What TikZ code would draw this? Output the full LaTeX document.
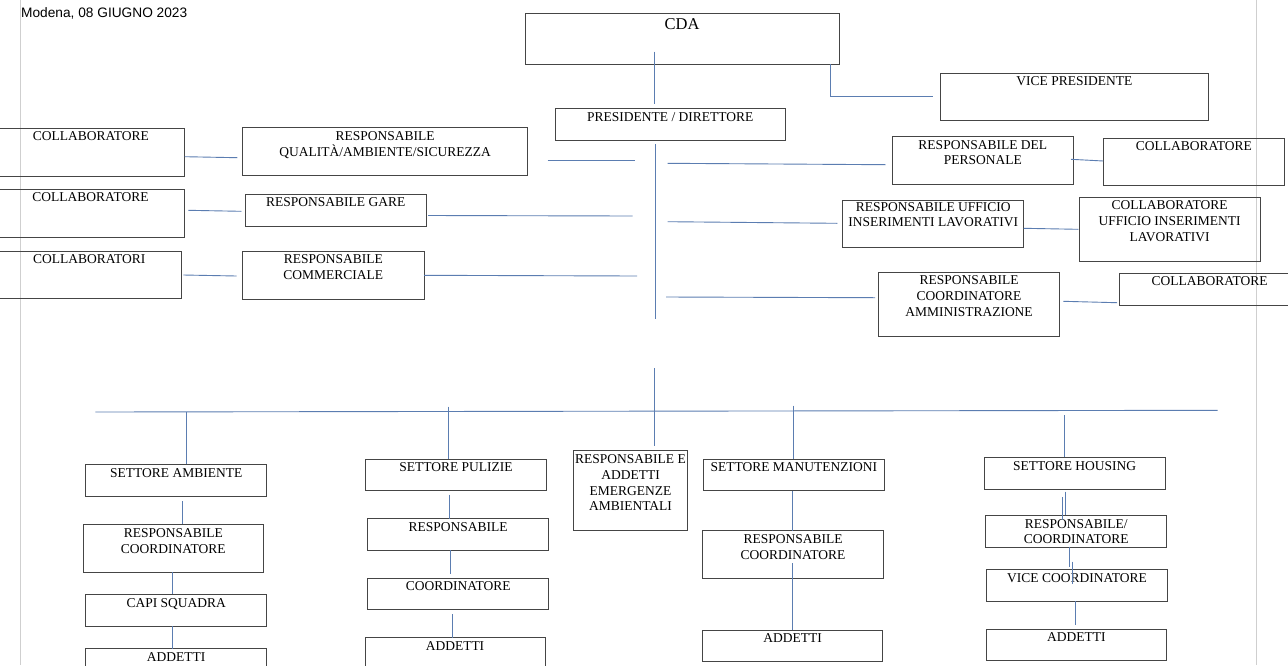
\documentclass[tikz,border=0pt]{standalone}
\usepackage{fontspec}
\setmainfont{Liberation Serif}
\newfontfamily\arialf{Liberation Sans}
\definecolor{boxc}{HTML}{454545}
\definecolor{linec}{HTML}{5B7DB1}
\definecolor{marg}{HTML}{CFCFCF}
% \mkbox[baseline offset]{name}{x1}{y1}{x2}{y2}{text}
\newcommand{\mkbox}[7][12.3]{%
  \node[obox] (#2) at (#3,#4) {\parbox[t][\dimexpr#6pt-#4pt\relax][t]{\dimexpr#5pt-#3pt\relax}{\rule{0pt}{#1pt}\makebox[\linewidth]{\begin{tabular}[t]{@{}c@{}}#7\end{tabular}}}};}
\begin{document}
\begin{tikzpicture}[x=1pt,y=-1pt,
  obox/.style={draw=boxc, line width=0.9pt, rectangle, inner sep=0pt, outer sep=0pt, anchor=north west,
    font=\fontsize{13.5pt}{15.7pt}\selectfont},
  conn/.style={draw=linec, line width=0.9pt},
  margin/.style={draw=marg, line width=0.9pt}]
\useasboundingbox (0,0) rectangle (1288,665);
\fill[white] (0,0) rectangle (1288,665);
\clip (0,0) rectangle (1288,665);
% page margins
\coordinate (ml1) at (20.3,0); \coordinate (ml2) at (20.3,665);
\coordinate (mr1) at (1256.7,0); \coordinate (mr2) at (1256.7,665);
\draw[margin] (ml1) -- (ml2);
\draw[margin] (mr1) -- (mr2);
% title
\node[anchor=base west, inner sep=0pt, font=\arialf\fontsize{13.7pt}{16pt}\selectfont] (title) at (21,17) {Modena, 08 GIUGNO 2023};
% top boxes
\mkbox[16]{cda}{525}{13.3}{839.3}{64.3}{\fontsize{16.5pt}{18pt}\selectfont CDA}
\mkbox[12.7]{pres}{555.3}{108.3}{785.3}{140}{PRESIDENTE / DIRETTORE}
\mkbox{vice}{940}{73.3}{1208.7}{120.7}{VICE PRESIDENTE}
% left column
\mkbox[12]{c1}{-3}{128.3}{184.7}{176}{COLLABORATORE}
\mkbox{q}{242.7}{127.7}{527.7}{175.7}{RESPONSABILE\\QUALITÀ/AMBIENTE/SICUREZZA}
\mkbox[12]{c2}{-3}{189.7}{184}{237.7}{COLLABORATORE}
\mkbox[12]{g}{245.3}{194.3}{426.3}{226.3}{RESPONSABILE GARE}
\mkbox[12.3]{c3}{-3}{251}{181.7}{298.7}{COLLABORATORI}
\mkbox[12.8]{com}{242.7}{251}{424}{299.3}{RESPONSABILE\\COMMERCIALE}
% right column
\mkbox[12.3]{per}{892.3}{136.7}{1073.3}{184}{RESPONSABILE DEL\\PERSONALE}
\mkbox[12]{c4}{1103.3}{138.3}{1284.3}{185.7}{COLLABORATORE}
\mkbox[11]{uff}{842.7}{200}{1023.7}{247.3}{RESPONSABILE UFFICIO\\INSERIMENTI LAVORATIVI}
\mkbox[12]{c5}{1079}{197.7}{1260.3}{261.3}{COLLABORATORE\\UFFICIO INSERIMENTI\\LAVORATIVI}
\mkbox[12]{amm}{878.3}{272.7}{1059.7}{336.3}{RESPONSABILE\\COORDINATORE\\AMMINISTRAZIONE}
\mkbox[11.3]{c6}{1119.3}{273.7}{1300}{305.7}{COLLABORATORE}
% bottom: ambiente
\mkbox[12.7]{amb}{85.7}{464.3}{266.7}{496}{SETTORE AMBIENTE}
\mkbox[13]{ambr}{83}{524.3}{263.7}{572.3}{RESPONSABILE\\COORDINATORE}
\mkbox[12.7]{ambc}{85.7}{594.3}{266.7}{626}{CAPI SQUADRA}
\mkbox[12.6]{amba}{85.7}{648.7}{266.7}{690}{ADDETTI}
% pulizie
\mkbox[12.6]{pul}{365.7}{459}{546.3}{490.7}{SETTORE PULIZIE}
\mkbox[12.3]{pulr}{367.7}{518.7}{548.7}{550.3}{RESPONSABILE}
\mkbox[12.3]{pulc}{367.7}{578.3}{548.7}{609.3}{COORDINATORE}
\mkbox[12.3]{pula}{365}{637.7}{545}{690}{ADDETTI}
% emergenze
\mkbox[13]{emg}{573.3}{450.7}{687.7}{530}{RESPONSABILE E\\ADDETTI\\EMERGENZE\\AMBIENTALI}
% manutenzioni
\mkbox[12.6]{man}{703.3}{459}{884.3}{490.7}{SETTORE MANUTENZIONI}
\mkbox[12.6]{manr}{702.7}{530.7}{883.3}{578.3}{RESPONSABILE\\COORDINATORE}
\mkbox[12.6]{mana}{702.7}{630}{882.7}{661.7}{ADDETTI}
% housing
\mkbox[13]{hou}{984.3}{457.3}{1165}{489}{SETTORE HOUSING}
\mkbox[12.7]{hour}{985.7}{515.3}{1166.7}{547}{RESPONSABILE/\\COORDINATORE}
\mkbox[12.7]{houv}{986.7}{569.3}{1167.3}{601}{VICE COORDINATORE}
\mkbox[12.3]{houa}{986}{629.3}{1166.7}{660.7}{ADDETTI}
% ---------- connectors ----------
\coordinate (k1) at (654.3,51.7);
\draw[conn] (k1) -- (k1 |- 0,104.3);
\coordinate (k2) at (830.7,64.3); \coordinate (k3) at (933.3,96.5);
\draw[conn] (k2) |- (k3);
\coordinate (sp1) at (655.3,144); \coordinate (sp2) at (655.3,319);
\draw[conn] (sp1) -- (sp2);
% left branches
\coordinate (l1a) at (547.7,160.3); \coordinate (l1b) at (635,160.3);
\coordinate (l2a) at (428,215.5);   \coordinate (l2b) at (632.7,216);
\coordinate (l3a) at (424,275.3);   \coordinate (l3b) at (637,276);
\draw[conn] (l1a) -- (l1b);
\draw[conn] (l2a) -- (l2b);
\draw[conn] (l3a) -- (l3b);
% right branches
\coordinate (r1a) at (667.7,163.3); \coordinate (r1b) at (885.7,164.7);
\coordinate (r2a) at (667.7,221.7); \coordinate (r2b) at (837.3,223.3);
\coordinate (r3a) at (666,297);     \coordinate (r3b) at (875,297.7);
\draw[conn] (r1a) -- (r1b);
\draw[conn] (r2a) -- (r2b);
\draw[conn] (r3a) -- (r3b);
% collaborator links
\coordinate (x1a) at (184.7,156.7); \coordinate (x1b) at (237.3,157.7);
\coordinate (x2a) at (188.3,210.3); \coordinate (x2b) at (241.3,211.3);
\coordinate (x3a) at (183.3,275);   \coordinate (x3b) at (236.7,276);
\coordinate (x4a) at (1071,159.3);  \coordinate (x4b) at (1103.3,161);
\coordinate (x5a) at (1023.7,228.3);\coordinate (x5b) at (1078.3,229.3);
\coordinate (x6a) at (1063.3,301.3);\coordinate (x6b) at (1117,302.7);
\draw[conn] (x1a) -- (x1b);
\draw[conn] (x2a) -- (x2b);
\draw[conn] (x3a) -- (x3b);
\draw[conn] (x4a) -- (x4b);
\draw[conn] (x5a) -- (x5b);
\draw[conn] (x6a) -- (x6b);
% lower trunk and bar
\coordinate (t1) at (654,368.3); \coordinate (t2) at (654,446);
\draw[conn] (t1) -- (t2);
\coordinate (bar1) at (95.3,412); \coordinate (bar2) at (1217.7,410.3);
\draw[conn] (bar1) -- (bar2);
% drops
\coordinate (d1) at (186.3,412);   \draw[conn] (d1) -- (d1 |- amb.north);
\coordinate (d2) at (448.7,406.7); \draw[conn] (d2) -- (d2 |- pul.north);
\coordinate (d3) at (793,405.7);   \draw[conn] (d3) -- (d3 |- man.north);
\coordinate (d4) at (1064.3,415);  \draw[conn] (d4) -- (d4 |- hou.north);
% ambiente chain
\coordinate (a1) at (182,501);     \draw[conn] (a1) -- (a1 |- ambr.north);
\coordinate (a2) at (172.3,572.3); \draw[conn] (a2) -- (a2 |- ambc.north);
\coordinate (a3) at (172.3,626);   \draw[conn] (a3) -- (a3 |- amba.north);
% pulizie chain
\coordinate (p1) at (449,494.7);   \draw[conn] (p1) -- (p1 |- pulr.north);
\coordinate (p2) at (450,550);     \coordinate (p2b) at (450,574); \draw[conn] (p2) -- (p2b);
\coordinate (p3) at (452.3,614);   \draw[conn] (p3) -- (p3 |- pula.north);
% manutenzioni chain
\coordinate (m1) at (792.3,490.7); \draw[conn] (m1) -- (m1 |- manr.north);
\coordinate (m2) at (792.3,563);   \draw[conn] (m2) -- (m2 |- mana.north);
% housing chain
\coordinate (h1) at (1062.7,497);  \coordinate (h1b) at (1062.7,520); \draw[conn] (h1) -- (h1b);
\coordinate (h2) at (1065,491.7);  \draw[conn] (h2) -- (h2 |- hour.north);
\coordinate (h3) at (1069.3,546.7);\coordinate (h3b) at (1069.3,566.7); \draw[conn] (h3) -- (h3b);
\coordinate (h4) at (1072.7,561.7);\coordinate (h4b) at (1072.7,584); \draw[conn] (h4) -- (h4b);
\coordinate (h5) at (1075.3,601);  \coordinate (h5b) at (1075.3,625.3); \draw[conn] (h5) -- (h5b);
\end{tikzpicture}
\end{document}
